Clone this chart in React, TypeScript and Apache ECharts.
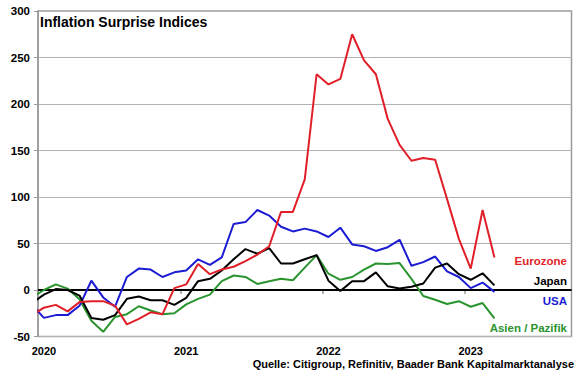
import React, { useEffect, useRef } from "react";
import * as echarts from "echarts";

const months: string[] = [
  "2019-12",
  "2020-01", "2020-02", "2020-03", "2020-04", "2020-05", "2020-06", "2020-07", "2020-08", "2020-09", "2020-10", "2020-11", "2020-12",
  "2021-01", "2021-02", "2021-03", "2021-04", "2021-05", "2021-06", "2021-07", "2021-08", "2021-09", "2021-10", "2021-11", "2021-12",
  "2022-01", "2022-02", "2022-03", "2022-04", "2022-05", "2022-06", "2022-07", "2022-08", "2022-09", "2022-10", "2022-11", "2022-12",
  "2023-01", "2023-02", "2023-03",
];

const eurozone: number[] = [-27, -19, -16, -23, -13, -12, -12, -17, -37, -31, -24, -26, 2, 6, 28, 17, 22, 25, 31, 38, 47, 84, 84, 119, 232, 221, 227, 275, 247, 232, 184, 156, 139, 142, 140, 98, 55, 23, 86, 35];
const japan: number[] = [-14, -5, 1, 0, -6, -30, -32, -27, -9.5, -7, -11, -11, -16, -8.5, 9.5, 12, 21, 33, 44, 39, 45, 28.5, 28.5, 33, 37.5, 10, -1, 9.5, 9.5, 19, 4, 1.5, 3.5, 7, 24, 28.5, 17, 11, 18, 5];
const usa: number[] = [-16, -30, -27, -27, -17, 10, -8, -18, 14, 23, 22, 14, 19, 21, 33, 27, 35, 71, 73, 86, 80, 68, 63, 66, 63, 57, 67, 49, 47, 42, 46, 54, 26, 30, 36, 20, 14, 2, 8, -2];
const asia: number[] = [-8, 0, 6, 1.5, -10, -33, -45, -29, -26, -17.5, -22, -26, -25, -15.5, -9.5, -5, 9.5, 15.6, 14, 6.5, 9.5, 12, 10.5, 24, 37.5, 17.5, 11, 14, 22, 28.5, 28, 29, 12, -6.5, -10.5, -15, -12, -18, -14, -30.5];

const yearTicks: number[] = [0, 12, 24, 36];
const yearLabelPos: number[] = [0.5, 12.5, 24.5, 36.5];
const baseYear = 2020;

const seriesNames = ["Eurozone", "Japan", "USA", "Asien / Pazifik"];
const seriesColors = ["#e01f28", "#000000", "#1c1cd4", "#2a942e"];

const FONT = "'Liberation Sans', Arial, Helvetica, sans-serif";

// month offset from Jan 2020, mid-month
function monthPos(m: string): number {
  const [y, mo] = m.split("-").map(Number);
  return (y - baseYear) * 12 + (mo - 1) + 0.5;
}

export default function App() {
  const ref = useRef<HTMLDivElement>(null);

  useEffect(() => {
    if (!ref.current) return;
    const chart = echarts.init(ref.current, undefined, { renderer: "svg" });
    const xs = months.map(monthPos);
    const all = [eurozone, japan, usa, asia];

    const series: any[] = all.map((vals, i) => ({
      name: seriesNames[i],
      type: "line",
      data: vals.map((v, j) => [xs[j], v]),
      showSymbol: false,
      symbol: "none",
      clip: true,
      lineStyle: { color: seriesColors[i], width: 2 },
      itemStyle: { color: seriesColors[i] },
      z: 3 + (3 - i),
    }));
    series[0].markLine = {
      silent: true,
      symbol: "none",
      label: { show: false },
      lineStyle: { color: "#000", width: 2, type: "solid" },
      data: [{ yAxis: 0 }],
      z: 2,
    };

    const labelYs = [261, 281, 301, 328];

    chart.setOption({
      animation: false,
      textStyle: { fontFamily: FONT },
      grid: {
        left: 38,
        right: 8.5,
        top: 11,
        bottom: 38.5,
        show: true,
        borderColor: "#9a9a9a",
        borderWidth: 1.5,
        backgroundColor: "transparent",
      },
      xAxis: {
        type: "value",
        min: 0,
        max: 45,
        interval: 12,
        axisLine: { show: true, lineStyle: { color: "#9a9a9a", width: 1.5 } },
        axisTick: { show: true, length: 4, inside: false, customValues: yearTicks, lineStyle: { color: "#9a9a9a", width: 1.5 } },
        splitLine: { show: false },
        axisLabel: {
          customValues: yearLabelPos,
          formatter: (v: number) => String(baseYear + Math.floor(v / 12)),
          color: "#000",
          fontWeight: "bold",
          fontSize: 11,
          fontFamily: FONT,
          margin: 9,
        },
      },
      yAxis: {
        type: "value",
        min: -50,
        max: 300,
        interval: 50,
        axisLine: { show: true, lineStyle: { color: "#9a9a9a", width: 1.5 } },
        axisTick: { show: true, length: 4, lineStyle: { color: "#9a9a9a" } },
        splitLine: { show: true, lineStyle: { color: "#b4b4b4", width: 1 } },
        axisLabel: {
          color: "#000",
          fontWeight: "bold",
          fontSize: 11.5,
          fontFamily: FONT,
          margin: 8,
        },
      },
      series,
      graphic: [
        {
          type: "text",
          left: 40,
          top: 15,
          style: {
            text: "Inflation Surprise Indices",
            fill: "#000",
            font: `bold 14px ${FONT}`,
          },
          z: 10,
        },
        ...seriesNames.map((n, i) => ({
          type: "text",
          x: 567,
          y: labelYs[i],
          style: {
            text: n,
            fill: seriesColors[i],
            font: `bold 11.5px ${FONT}`,
            textAlign: "right",
            textVerticalAlign: "middle",
          },
          z: 10,
        })),
        {
          type: "text",
          x: 574,
          y: 364,
          style: {
            text: "Quelle: Citigroup, Refinitiv, Baader Bank Kapitalmarktanalyse",
            fill: "#000",
            font: `bold 11px ${FONT}`,
            textAlign: "right",
            textVerticalAlign: "middle",
          },
          z: 10,
        },
      ],
    });

    return () => chart.dispose();
  }, []);

  return (
    <div
      ref={ref}
      style={{ position: "absolute", left: 0, top: 0, width: 580, height: 375 }}
    />
  );
}
